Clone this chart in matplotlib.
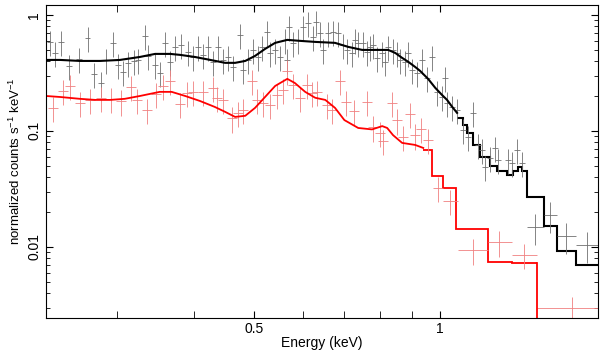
import numpy as np
import matplotlib.pyplot as plt
from matplotlib.ticker import FixedLocator, FixedFormatter, NullFormatter

plt.rcParams['font.family'] = ['Liberation Sans', 'DejaVu Sans']
plt.rcParams['mathtext.default'] = 'regular'

# black spectrum: data points (energy keV, normalized counts)
black_E = [0.234, 0.238, 0.2435, 0.251, 0.2605, 0.269, 0.2755, 0.283, 0.288, 0.296,
           0.301, 0.307, 0.313, 0.320, 0.325, 0.333, 0.337, 0.346, 0.352, 0.359,
           0.366, 0.373, 0.381, 0.391, 0.3985, 0.406, 0.414, 0.421, 0.429, 0.437,
           0.446, 0.454, 0.462, 0.475, 0.480, 0.489, 0.498, 0.508, 0.515, 0.525,
           0.531, 0.541, 0.551, 0.561, 0.566, 0.570, 0.578, 0.589, 0.600, 0.611,
           0.623, 0.630, 0.640, 0.6465, 0.659, 0.671, 0.684, 0.697, 0.707, 0.7205,
           0.7285, 0.737, 0.7506, 0.762, 0.770, 0.779, 0.791, 0.806, 0.815, 0.824,
           0.839, 0.852, 0.8615, 0.878, 0.8875, 0.901, 0.918, 0.935, 0.953, 0.971,
           0.989, 1.0075, 1.019, 1.026, 1.046, 1.065, 1.089, 1.110, 1.131, 1.152,
           1.170, 1.183, 1.205, 1.2275, 1.241, 1.288, 1.308, 1.333, 1.358]
black_F = [0.585, 0.470, 0.585, 0.363, 0.418, 0.633, 0.310, 0.259, 0.409, 0.574,
           0.371, 0.323, 0.386, 0.401, 0.409, 0.659, 0.443, 0.371, 0.316, 0.574,
           0.394, 0.530, 0.551, 0.480, 0.434, 0.530, 0.452, 0.530, 0.394, 0.530,
           0.409, 0.434, 0.356, 0.672, 0.336, 0.409, 0.499, 0.434, 0.530, 0.714,
           0.470, 0.499, 0.434, 0.609, 0.409, 0.788, 0.574, 0.609, 0.788, 0.853,
           0.646, 0.870, 0.700, 0.499, 0.700, 0.714, 0.700, 0.551, 0.499, 0.470,
           0.609, 0.574, 0.574, 0.480, 0.530, 0.551, 0.426, 0.470, 0.394, 0.530,
           0.499, 0.470, 0.409, 0.394, 0.470, 0.336, 0.316, 0.409, 0.286, 0.434,
           0.217, 0.196, 0.286, 0.174, 0.161, 0.152, 0.102, 0.0888, 0.143, 0.0757,
           0.0686, 0.049, 0.0585, 0.0713, 0.0562, 0.0562, 0.0530, 0.0686, 0.0530]
# wide bins at high energy
black_tail_E = [1.425, 1.507, 1.599, 1.729]
black_tail_F = [0.0149, 0.0189, 0.0124, 0.0104]
black_tail_lo = [1.383, 1.473, 1.546, 1.660]
black_tail_hi = [1.473, 1.546, 1.660, 1.800]

# black model
black_model_E = [0.2305, 0.243, 0.2615, 0.282, 0.3035, 0.327, 0.346, 0.366, 0.380, 0.401,
                 0.425, 0.449, 0.466, 0.484, 0.502, 0.521, 0.541, 0.566, 0.594, 0.628,
                 0.676, 0.710, 0.748, 0.785, 0.824, 0.846, 0.868, 0.888, 0.911, 0.928,
                 0.956, 0.982, 1.007, 1.026, 1.046, 1.065]
black_model_F = [0.409, 0.409, 0.401, 0.401, 0.409, 0.434, 0.461, 0.461, 0.452, 0.434,
                 0.409, 0.386, 0.386, 0.401, 0.443, 0.509, 0.574, 0.609, 0.597, 0.585,
                 0.574, 0.530, 0.499, 0.499, 0.499, 0.470, 0.426, 0.394, 0.356, 0.329,
                 0.281, 0.235, 0.204, 0.185, 0.161, 0.143]
black_step_edges = [1.065, 1.090, 1.106, 1.131, 1.161, 1.205, 1.237, 1.284, 1.313, 1.337,
                    1.357, 1.383, 1.473, 1.546, 1.660, 1.800]
black_step_F = [0.13, 0.113, 0.096, 0.075, 0.060, 0.050, 0.045, 0.042, 0.045, 0.049,
                0.045, 0.027, 0.0152, 0.0092, 0.0070]

# red spectrum
red_E = [0.2365, 0.2455, 0.252, 0.2615, 0.2715, 0.283, 0.2935, 0.3046, 0.316, 0.3234,
         0.3357, 0.347, 0.356, 0.366, 0.380, 0.390, 0.3985, 0.4136, 0.429, 0.436,
         0.446, 0.461, 0.471, 0.480, 0.496, 0.506, 0.517, 0.531, 0.545, 0.557,
         0.566, 0.578, 0.594, 0.609, 0.621, 0.632, 0.656, 0.669, 0.689, 0.7045,
         0.726, 0.762, 0.779, 0.800, 0.809, 0.836, 0.852, 0.871, 0.894, 0.911,
         0.932, 0.956, 0.993]
red_F = [0.158, 0.221, 0.244, 0.174, 0.185, 0.193, 0.189, 0.181, 0.239, 0.185,
         0.152, 0.208, 0.244, 0.270, 0.171, 0.213, 0.217, 0.217, 0.235, 0.193,
         0.185, 0.129, 0.143, 0.152, 0.270, 0.185, 0.174, 0.168, 0.204, 0.226,
         0.329, 0.249, 0.193, 0.249, 0.213, 0.217, 0.168, 0.152, 0.270, 0.178,
         0.149, 0.178, 0.108, 0.096, 0.082, 0.174, 0.124, 0.0888, 0.140, 0.092,
         0.104, 0.0836, 0.0323]
red_tail_E = [1.038, 1.131, 1.246, 1.367, 1.635]
red_tail_F = [0.0249, 0.0094, 0.0110, 0.00853, 0.00298]
red_tail_lo = [1.011, 1.069, 1.196, 1.308, 1.436]
red_tail_hi = [1.069, 1.196, 1.308, 1.436, 1.815]

red_model_E = [0.2305, 0.243, 0.2615, 0.277, 0.2925, 0.309, 0.327, 0.352, 0.368, 0.387,
               0.409, 0.432, 0.449, 0.466, 0.484, 0.502, 0.521, 0.541, 0.566, 0.582,
               0.605, 0.628, 0.652, 0.676, 0.700, 0.737, 0.776, 0.806, 0.821, 0.839,
               0.868, 0.911, 0.939]
red_model_F = [0.200, 0.196, 0.189, 0.185, 0.185, 0.189, 0.200, 0.217, 0.217, 0.200,
               0.181, 0.161, 0.146, 0.132, 0.135, 0.158, 0.196, 0.244, 0.281, 0.259,
               0.217, 0.193, 0.185, 0.158, 0.124, 0.106, 0.103, 0.110, 0.106, 0.092,
               0.0788, 0.0757, 0.0713]
red_step_edges = [0.939, 0.971, 1.011, 1.061, 1.196, 1.308, 1.436]
red_step_F = [0.0686, 0.041, 0.0323, 0.0144, 0.0074, 0.0073]

fig = plt.figure(figsize=(6, 3.53), dpi=100)
ax = fig.add_axes([0.0767, 0.0992, 0.92, 0.887])
ax.set_xscale('log')
ax.set_yscale('log')

bE = np.array(black_E); bF = np.array(black_F)
ax.errorbar(bE, bF, xerr=bE*0.011, yerr=bF*0.25, fmt='none', ecolor='#707070', elinewidth=0.6)
tE = np.array(black_tail_E)
ax.errorbar(tE, black_tail_F, xerr=[tE-np.array(black_tail_lo), np.array(black_tail_hi)-tE],
            yerr=np.array(black_tail_F)*0.3, fmt='none', ecolor='#707070', elinewidth=0.6)

rE = np.array(red_E); rF = np.array(red_F)
ax.errorbar(rE, rF, xerr=rE*0.019, yerr=rF*0.25, fmt='none', ecolor='#f08080', elinewidth=0.6)
tE = np.array(red_tail_E)
ax.errorbar(tE, red_tail_F, xerr=[tE-np.array(red_tail_lo), np.array(red_tail_hi)-tE],
            yerr=np.array(red_tail_F)*0.25, fmt='none', ecolor='#f08080', elinewidth=0.6)

ax.plot(black_model_E, black_model_F, color='black', lw=1.5)
ax.stairs(black_step_F, black_step_edges, baseline=None, color='black', lw=1.5)
ax.plot(red_model_E, red_model_F, color='red', lw=1.3)
ax.stairs(red_step_F, red_step_edges, baseline=None, color='red', lw=1.3)
ax.plot([red_step_edges[-1]]*2, [red_step_F[-1], 1e-4], color='red', lw=1.3)

ax.set_xlim(0.2305, 1.80)
ax.set_ylim(0.00244, 1.22)

ax.xaxis.set_major_locator(FixedLocator([0.5, 1]))
ax.xaxis.set_major_formatter(FixedFormatter(['0.5', '1']))
ax.xaxis.set_minor_locator(FixedLocator([0.3, 0.4, 0.6, 0.7, 0.8, 0.9]))
ax.xaxis.set_minor_formatter(NullFormatter())
ax.set_yticks([0.01, 0.1, 1])
ax.set_yticklabels(['0.01', '0.1', '1'], rotation=90, va='center')
ax.tick_params(which='both', direction='in', top=True, right=True, labelsize=10)
ax.tick_params(which='major', length=5)
ax.tick_params(which='minor', length=3)
ax.tick_params(axis='x', which='minor', length=5)
ax.tick_params(axis='x', pad=3)

ax.set_xlabel('Energy (keV)', fontsize=10)
ax.xaxis.set_label_coords(0.5, -0.058)
ax.set_ylabel('normalized counts s$^{-1}$ keV$^{-1}$', fontsize=9.5, labelpad=3)

fig.savefig('out.png', dpi=100)
